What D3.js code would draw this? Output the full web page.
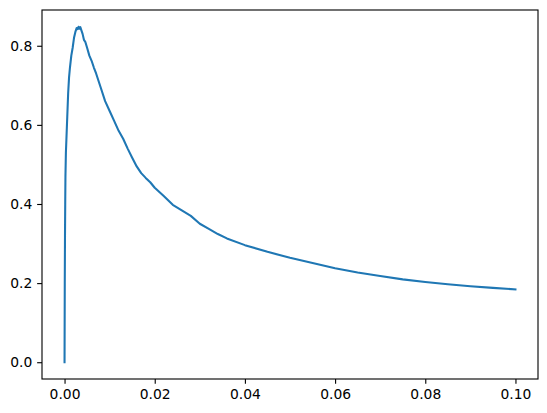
<!DOCTYPE html>
<meta charset="utf-8">
<script src="https://d3js.org/d3.v7.min.js"></script>
<style>
  body { margin: 0; background: #fff; }
  text { font-family: "DejaVu Sans", sans-serif; }
</style>
<div id="my_dataviz"></div>
<script>

// values
let xValues = [0, 0.00005, 0.0001, 0.00015, 0.0002, 0.0003, 0.0004, 0.0005, 0.0006, 0.0008,
  0.001, 0.0012, 0.0015, 0.0018, 0.0021, 0.0024, 0.0027, 0.0029, 0.0031, 0.0033,
  0.0035, 0.0037, 0.004, 0.0043, 0.0046, 0.005, 0.0055, 0.006, 0.0065, 0.007,
  0.008, 0.009, 0.010, 0.011, 0.012, 0.013, 0.014, 0.015, 0.016, 0.017,
  0.018, 0.019, 0.020, 0.022, 0.024, 0.026, 0.028, 0.030, 0.032, 0.034,
  0.036, 0.040, 0.045, 0.050, 0.055, 0.060, 0.065, 0.070, 0.075, 0.080,
  0.085, 0.090, 0.095, 0.100];
let yValues = [0, 0.2, 0.32, 0.4, 0.47, 0.53, 0.56, 0.59, 0.62, 0.68,
  0.72, 0.745, 0.775, 0.795, 0.82, 0.835, 0.845, 0.842, 0.848, 0.843,
  0.847, 0.84, 0.83, 0.815, 0.81, 0.795, 0.775, 0.762, 0.745, 0.73,
  0.695, 0.66, 0.635, 0.61, 0.585, 0.565, 0.54, 0.517, 0.495, 0.478,
  0.466, 0.455, 0.441, 0.42, 0.398, 0.384, 0.37, 0.35, 0.337, 0.324,
  0.313, 0.296, 0.279, 0.264, 0.251, 0.2375, 0.227, 0.218, 0.2095, 0.203,
  0.197, 0.192, 0.188, 0.184];
let xTicks = [0, 0.02, 0.04, 0.06, 0.08, 0.10];
let yTicks = [0, 0.2, 0.4, 0.6, 0.8];

let data = xValues.map(function(x, i) { return {x: x, y: yValues[i]}; });

// figure 547x413, axes box like matplotlib
let margin = {top: 10, right: 9, bottom: 34, left: 42},
    width = 547 - margin.left - margin.right,
    height = 413 - margin.top - margin.bottom;

let svg = d3.select("#my_dataviz")
  .append("svg")
    .attr("width", 547)
    .attr("height", 413)
  .append("g")
    .attr("transform", "translate(" + margin.left + "," + margin.top + ")");

// 5% padding on both sides, as matplotlib does
let xPad = 0.1 * 0.05, yPad = 0.848 * 0.05;
let x = d3.scaleLinear()
    .domain([0 - xPad, 0.1 + xPad])
    .range([0, width]);
let y = d3.scaleLinear()
    .domain([0 - yPad, 0.848 + yPad])
    .range([height, 0]);

let fontPx = 13.89, tickLen = 4.86, pad = 4.86;

let xAxis = svg.append("g")
    .attr("transform", "translate(0," + height + ")")
    .call(d3.axisBottom(x).tickValues(xTicks).tickFormat(d3.format(".2f"))
      .tickSize(tickLen).tickPadding(pad));
let yAxis = svg.append("g")
    .call(d3.axisLeft(y).tickValues(yTicks).tickFormat(d3.format(".1f"))
      .tickSize(tickLen).tickPadding(pad));

[xAxis, yAxis].forEach(function(a) {
  a.select(".domain").remove();
  a.selectAll("line").attr("stroke", "#000").attr("stroke-width", 1.11);
  a.selectAll("text")
    .attr("fill", "#000")
    .style("font-size", fontPx + "px")
    .style("font-family", "'DejaVu Sans', sans-serif");
});

// the line
svg.append("path")
    .datum(data)
    .attr("fill", "none")
    .attr("stroke", "#1f77b4")
    .attr("stroke-width", 2.08)
    .attr("stroke-linejoin", "round")
    .attr("stroke-linecap", "square")
    .attr("d", d3.line()
      .x(function(d) { return x(d.x); })
      .y(function(d) { return y(d.y); }));

// axes frame
svg.append("rect")
    .attr("x", 0)
    .attr("y", 0)
    .attr("width", width)
    .attr("height", height)
    .attr("fill", "none")
    .attr("stroke", "#000")
    .attr("stroke-width", 1.11);

</script>
